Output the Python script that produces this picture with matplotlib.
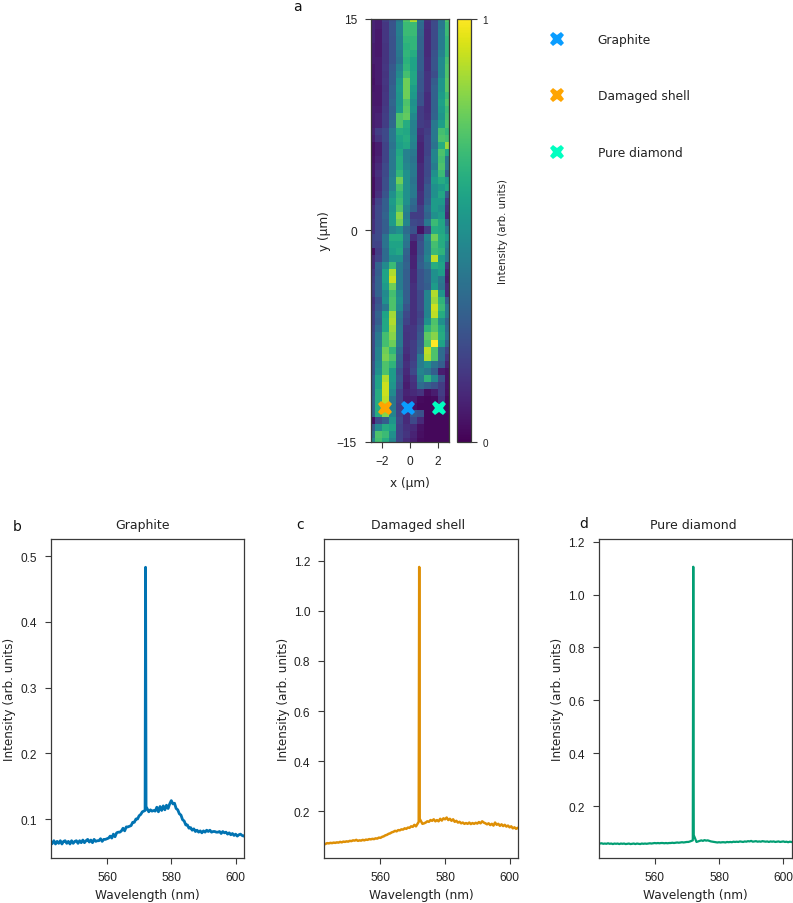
import numpy as np
import matplotlib
matplotlib.use("Agg")
import matplotlib.pyplot as plt
from matplotlib.lines import Line2D

W, H = 793, 904
LINE = "#3a3a3a"
TICK_FONT = ["Liberation Sans", "DejaVu Sans"]
LABEL_FONT = ["DejaVu Sans"]

# map intensities, in hundredths; rows run from y = +15 to y = -15, columns from x = -2.75 to 2.75
map_rows = [
 [10, 8,18,25,40,72,88,38,14,22,40,72],
 [10, 8,16,26,43,68,68,35,13,23,40,68],
 [10, 7,16,26,43,68,68,33,12,23,42,68],
 [10, 7,16,25,42,66,66,32,12,23,42,66],
 [ 8, 7,15,25,42,64,66,32,12,23,42,66],
 [ 8, 7,15,25,40,66,62,30,12,25,44,66],
 [ 8, 8,15,25,38,64,58,30,13,26,48,70],
 [ 6, 8,16,28,44,66,58,30,13,26,48,72],
 [ 6, 8,15,29,47,70,60,28,15,24,48,72],
 [ 5, 8,16,29,52,78,60,27,15,29,52,74],
 [ 6, 7,15,31,54,78,56,27,15,31,52,74],
 [ 7, 7,16,31,52,78,54,25,13,31,55,68],
 [ 7, 7,16,33,52,72,50,25,13,31,57,72],
 [ 8, 8,17,31,54,74,52,18,13,31,55,68],
 [ 8,10,18,32,72,76,48,18,14,32,52,70],
 [ 8,10,18,34,72,62,44,18,16,40,56,72],
 [10,18,22,40,62,60,44,14,18,40,70,66],
 [ 8,15,22,40,58,62,46,12,20,40,72,70],
 [ 4, 8,20,38,56,60,44,10,20,38,62,85],
 [ 4, 8,20,40,60,44,40,10,20,45,72,60],
 [ 5,10,20,40,62,44,38,10,22,45,70,40],
 [ 6,12,22,40,62,46,40,12,22,42,72,40],
 [ 6,14,22,42,66,50,40,12,22,50,68,30],
 [ 4,12,24,44,78,50,38,12,24,55,62,55],
 [ 4,12,24,44,70,50,40,12,28,50,55,60],
 [ 4,14,26,50,66,50,40,14,28,50,60,30],
 [ 8,20,30,55,68,50,35,14,30,55,55,18],
 [12,22,30,52,72,45,32,18,35,55,50,15],
 [12,22,32,55,82,42,18,18,32,50,55,12],
 [14,22,30,55,78,45,22,20,40,68,60,30],
 [14,22,30,45,50,35,25, 5,18,62,60,42],
 [20,22,38,62,62,40,14,22,45,78,62,55],
 [20,20,38,58,58,38, 8,25,42,70,62,45],
 [ 4,18,35,56,60,32, 8,25,42,68,65,40],
 [12,20,35,50,50,30,10,28,45,90,55,40],
 [12,32,48,68,42,32,10,30,38,62,58,15],
 [16,30,58,88,42,30,12,25,32,50,56,10],
 [18,32,58,92,42,30,12,25,32,50,40, 8],
 [20,32,55,78,42,30,14,25,30,55,38,12],
 [18,32,48,70,48,30,14,22,45,88,52,12],
 [14,25,50,72,50,30,14,22,45,85,65,30],
 [16,28,40,72,48,26,14,22,45,92,68,40],
 [18,32,58,86,40,22,14,20,45,90,62,40],
 [18,30,60,88,38,20,14,22,50,72,50,32],
 [20,35,60,85,40,16,16,25,65,74,60,35],
 [22,40,70,82,40,15,16,28,75,82,62,38],
 [22,42,70,78,40,15,18,30,72,100,58,32],
 [22,45,78,66,35,14,18,32,90,72,35,20],
 [22,45,80,72,32,12,18,42,88,72,35,15],
 [25,48,72,65,30,14,20,42,50,38,30,10],
 [25,50,72,55,25,12,22,45,40,30, 8, 5],
 [30,58,88,55,28,10,16,42,65,48,25, 5],
 [30,58,92,52,25, 8,14,35,30,25,18, 5],
 [30,62,92,48,20,10,12,15, 4, 8,18, 4],
 [32,62,90,40,20, 8, 8, 3, 2, 3,15, 2],
 [32,62,88,40,18, 8, 5, 2, 2, 2, 2, 2],
 [32,62,82,45,20,12,28,25, 2, 2, 2, 2],
 [ 4,22,30,52,22,12,22,12, 2, 2, 2, 2],
 [28,48,62,58,20,14,12, 5, 2, 2, 2, 2],
 [35,72,68,50,20,15,10, 4, 2, 2, 2, 2],
 [45,70,62,45,20,12, 8, 3, 2, 2, 2, 2],
]

location_names = ["Graphite", "Damaged shell", "Pure diamond"]
location_x = [-0.16, -1.77, 2.03]
location_y = [-12.6, -12.6, -12.6]
location_colors = ["#0a9dff", "#ffa500", "#00ffc0"]

# sample wavelengths (nm); samples close in around the 572 nm diamond line
wavelength = [543 + 0.5 * i for i in range(121)]
wavelength[57] = 571.85
wavelength[59] = 572.15

graphite = [
 .063,.067,.062,.066,.063,.067,.062,.066,.067,.063,.066,.062,.067,.063,.066,.067,.063,.067,.064,.068,
 .064,.067,.069,.065,.068,.064,.069,.066,.067,.067,.070,.066,.069,.069,.070,.071,.074,.071,.077,.073,
 .079,.080,.080,.082,.086,.082,.088,.088,.089,.090,.095,.095,.100,.100,.105,.107,.111,.113,.483,.119,
 .111,.114,.112,.113,.112,.118,.111,.119,.113,.120,.114,.121,.116,.123,.128,.123,.124,.116,.114,.108,
 .106,.099,.097,.091,.091,.086,.087,.083,.085,.081,.083,.080,.082,.079,.082,.080,.083,.081,.083,.080,
 .081,.081,.080,.080,.081,.078,.081,.079,.080,.077,.079,.076,.078,.075,.077,.074,.076,.077,.075,.074,.076,
]
damaged_shell = [
 .070,.073,.072,.074,.073,.075,.074,.076,.075,.078,.076,.079,.078,.080,.079,.082,.081,.084,.083,.086,
 .082,.084,.083,.086,.084,.087,.086,.089,.088,.090,.089,.092,.091,.095,.094,.098,.100,.104,.106,.110,
 .112,.116,.118,.122,.120,.125,.124,.128,.127,.132,.130,.135,.134,.140,.138,.146,.140,.158,1.175,.170,
 .150,.152,.155,.160,.158,.165,.162,.168,.160,.165,.160,.170,.163,.172,.168,.175,.165,.170,.162,.168,
 .158,.162,.155,.158,.152,.155,.150,.153,.150,.155,.149,.153,.150,.154,.151,.157,.152,.160,.155,.152,
 .148,.152,.145,.150,.143,.155,.146,.150,.142,.148,.141,.146,.139,.143,.136,.140,.132,.136,.130,.134,.130,
]
pure_diamond = [
 .058,.059,.057,.058,.057,.059,.057,.058,.056,.058,.057,.058,.056,.058,.057,.058,.056,.057,.058,.056,
 .057,.058,.056,.058,.057,.056,.058,.057,.058,.057,.058,.059,.058,.059,.060,.059,.060,.059,.060,.060,
 .059,.060,.059,.060,.060,.061,.060,.061,.062,.061,.062,.063,.062,.063,.064,.064,.066,.070,1.105,.090,
 .064,.066,.068,.070,.068,.071,.069,.070,.068,.066,.065,.064,.063,.062,.063,.062,.063,.063,.062,.064,
 .063,.064,.063,.065,.064,.065,.064,.066,.065,.064,.066,.065,.067,.066,.068,.065,.066,.067,.065,.066,
 .065,.067,.066,.065,.066,.064,.066,.065,.066,.064,.065,.066,.064,.065,.066,.064,.065,.063,.065,.064,.063,
]

series_colors = ["#0173b2", "#de8f05", "#029e73"]
series_widths = [2.0, 1.8, 1.6]
title_x = [0.476, 0.485, 0.49]
panel_ylims = [(0.0407, 0.526), (0.0136, 1.2866), (0.0033, 1.21)]
panel_yticks = [[0.1, 0.2, 0.3, 0.4, 0.5], [0.2, 0.4, 0.6, 0.8, 1.0, 1.2], [0.2, 0.4, 0.6, 0.8, 1.0, 1.2]]
panel_xticks = [560, 580, 600]


def px_axes(fig, x0, y0, x1, y1):
    return fig.add_axes([x0 / W, 1 - y1 / H, (x1 - x0) / W, (y1 - y0) / H])


def style(ax, size=8.6, xpad=5, ypad=6):
    for s in ax.spines.values():
        s.set_edgecolor(LINE)
        s.set_linewidth(0.9)
    ax.tick_params(length=4.1, width=0.8, color=LINE, labelsize=size, labelcolor="#222222")
    ax.tick_params(axis="x", pad=xpad)
    ax.tick_params(axis="y", pad=ypad)
    for t in ax.get_xticklabels() + ax.get_yticklabels():
        t.set_fontfamily(TICK_FONT)


fig = plt.figure(figsize=(W / 100, H / 100), dpi=100)
plt.rcParams["font.family"] = LABEL_FONT

ax = px_axes(fig, 371, 19.5, 449, 443)
data = np.array(map_rows) / 100
im = ax.imshow(data, cmap="viridis", vmin=0, vmax=1, aspect="auto",
               extent=(-3, 3, -15.25, 15.25), interpolation="nearest")
ax.set_xlim(-2.77, 2.77)
ax.set_ylim(-15, 15)
ax.set_xticks([-2, 0, 2])
ax.set_yticks([-15, 0, 15])
ax.set_yticklabels(["\u221215", "0", "15"])
ax.set_xticklabels(["\u22122", "0", "2"])
style(ax)
ax.set_xlabel("x (\u00b5m)", fontsize=8.7, color="#222222", labelpad=7)
ax.set_ylabel("y (\u00b5m)", fontsize=8.7, color="#222222", labelpad=4)
handles = []
for name, lx, ly, col in zip(location_names, location_x, location_y, location_colors):
    ax.plot([lx], [ly], marker="X", ms=10.5, color=col, mec=col, mew=0, ls="none", zorder=5)
    handles.append(Line2D([], [], marker="X", ms=10.5, color=col, mec=col, mew=0, ls="none", label=name))

cax = px_axes(fig, 457, 19.5, 471, 443)
cb = fig.colorbar(im, cax=cax, ticks=[0, 1])
cb.ax.set_yticklabels(["0", "1"])
style(cax, 7.2, ypad=4)
cb.outline.set_edgecolor(LINE)
cb.outline.set_linewidth(0.9)
cb.set_label("Intensity (arb. units)", fontsize=7.4, color="#222222", labelpad=7)

leg = fig.legend(handles=handles, loc="upper left", bbox_to_anchor=(545 / W, 1 - 34 / H), frameon=False,
                 fontsize=8.8, labelspacing=3.55, handletextpad=2.3, labelcolor="#222222",
                 borderaxespad=0, borderpad=0)

boxes = [(51, 540, 244, 859), (324.3, 540, 518, 859), (598.7, 540, 791.7, 859)]
series = [graphite, damaged_shell, pure_diamond]
for box, name, values, col, lw, tx, ylim, yt in zip(boxes, location_names, series, series_colors, series_widths,
                                                    title_x, panel_ylims, panel_yticks):
    a = px_axes(fig, *box)
    a.plot(wavelength, values, color=col, lw=lw, solid_joinstyle="round")
    a.set_xlim(542.6, 602.6)
    a.set_ylim(*ylim)
    a.set_xticks(panel_xticks)
    a.set_yticks(yt)
    a.set_yticklabels([f"{v:.1f}" for v in yt])
    style(a)
    a.set_title(name, fontsize=9, color="#222222", pad=8, x=tx)
    a.set_xlabel("Wavelength (nm)", fontsize=8.75, color="#222222", labelpad=4.2)
    a.set_ylabel("Intensity (arb. units)", fontsize=8.65, color="#222222", labelpad=3)

for letter, x, y in [("a", 297, 7), ("b", 17, 527), ("c", 300, 525), ("d", 584, 524)]:
    fig.text(x / W, 1 - y / H, letter, fontsize=10, ha="center", va="center", color="#111111")

fig.savefig("out.png", dpi=100)
